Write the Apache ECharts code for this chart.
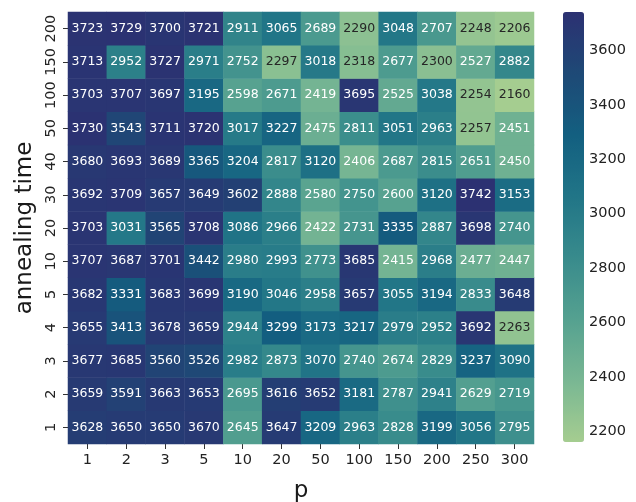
<!DOCTYPE html>
<html>
<head>
<meta charset="utf-8">
<script src="https://cdn.jsdelivr.net/npm/echarts@6/dist/echarts.min.js"></script>
<style>
html, body { margin: 0; padding: 0; background: #fff; }
#main { width: 636px; height: 502px; }
</style>
</head>
<body>
<div id="main"></div>
<script>
var chart = echarts.init(document.getElementById('main'));

// columns (p) and rows (annealing time), rows listed bottom -> top
var pLabels = ['1', '2', '3', '5', '10', '20', '50', '100', '150', '200', '250', '300'];
var timeLabels = ['1', '2', '3', '4', '5', '10', '20', '30', '40', '50', '100', '150', '200'];

// one array per annealing time
var row1   = [3628, 3650, 3650, 3670, 2645, 3647, 3209, 2963, 2828, 3199, 3056, 2795];
var row2   = [3659, 3591, 3663, 3653, 2695, 3616, 3652, 3181, 2787, 2941, 2629, 2719];
var row3   = [3677, 3685, 3560, 3526, 2982, 2873, 3070, 2740, 2674, 2829, 3237, 3090];
var row4   = [3655, 3413, 3678, 3659, 2944, 3299, 3173, 3217, 2979, 2952, 3692, 2263];
var row5   = [3682, 3331, 3683, 3699, 3190, 3046, 2958, 3657, 3055, 3194, 2833, 3648];
var row10  = [3707, 3687, 3701, 3442, 2980, 2993, 2773, 3685, 2415, 2968, 2477, 2447];
var row20  = [3703, 3031, 3565, 3708, 3086, 2966, 2422, 2731, 3335, 2887, 3698, 2740];
var row30  = [3692, 3709, 3657, 3649, 3602, 2888, 2580, 2750, 2600, 3120, 3742, 3153];
var row40  = [3680, 3693, 3689, 3365, 3204, 2817, 3120, 2406, 2687, 2815, 2651, 2450];
var row50  = [3730, 3543, 3711, 3720, 3017, 3227, 2475, 2811, 3051, 2963, 2257, 2451];
var row100 = [3703, 3707, 3697, 3195, 2598, 2671, 2419, 3695, 2525, 3038, 2254, 2160];
var row150 = [3713, 2952, 3727, 2971, 2752, 2297, 3018, 2318, 2677, 2300, 2527, 2882];
var row200 = [3723, 3729, 3700, 3721, 2911, 3065, 2689, 2290, 3048, 2707, 2248, 2206];

var rows = [row1, row2, row3, row4, row5, row10, row20, row30, row40, row50, row100, row150, row200];
var colorTicks = [2200, 2400, 2600, 2800, 3000, 3200, 3400, 3600];

// seaborn "crest"
var crest = ['#a5cd90', '#79b793', '#55a190', '#388b8c', '#217587', '#135f80', '#1e4976', '#2c3172'];

var vMin = 2160, vMax = 3742;
var font = 'DejaVu Sans';

var cells = [];
for (var r = 0; r < rows.length; r++) {
    for (var c = 0; c < pLabels.length; c++) {
        var v = rows[r][c];
        cells.push({
            value: [c, r, v],
            label: { color: v < 2360 ? '#262626' : '#ffffff' }
        });
    }
}

option = {
    animation: false,
    grid: [
        { left: 68, top: 12, width: 466, height: 432, outerBoundsMode: 'none' },
        { left: 563, top: 12, width: 21, height: 430, outerBoundsMode: 'none' }
    ],
    xAxis: [
        {
            type: 'category',
            gridIndex: 0,
            data: pLabels,
            name: 'p',
            nameLocation: 'middle',
            nameGap: 36,
            nameTextStyle: { fontFamily: font, fontSize: 23, color: '#1a1a1a' },
            axisLine: { show: false },
            axisTick: { show: true, alignWithLabel: true, interval: 0, length: 5, lineStyle: { color: '#333' } },
            axisLabel: { fontFamily: font, fontSize: 14.5, color: '#222', margin: 9, interval: 0 },
            splitLine: { show: false }
        },
        {
            type: 'value',
            gridIndex: 1,
            show: false
        }
    ],
    yAxis: [
        {
            type: 'category',
            gridIndex: 0,
            data: timeLabels,
            name: 'annealing time',
            nameLocation: 'middle',
            nameGap: 31,
            nameTextStyle: { fontFamily: font, fontSize: 23, color: '#1a1a1a' },
            axisLine: { show: false },
            axisTick: { show: true, alignWithLabel: true, interval: 0, length: 5, lineStyle: { color: '#333' } },
            axisLabel: { fontFamily: font, fontSize: 14.5, color: '#222', rotate: 90, margin: 9, interval: 0 },
            splitLine: { show: false }
        },
        {
            type: 'value',
            gridIndex: 1,
            position: 'right',
            min: vMin,
            max: vMax,
            axisLine: { show: false },
            axisTick: { show: true, length: 5, lineStyle: { color: '#333' }, customValues: colorTicks },
            axisLabel: {
                fontFamily: font, fontSize: 14.5, color: '#222', margin: 5,
                customValues: colorTicks,
                formatter: function (v) { return String(v); }
            },
            splitLine: { show: false }
        }
    ],
    visualMap: {
        type: 'continuous',
        min: vMin,
        max: vMax,
        calculable: false,
        show: true,
        left: 563,
        top: 12,
        padding: 0,
        itemWidth: 21,
        itemHeight: 430,
        text: null,
        showLabel: false,
        hoverLink: false,
        seriesIndex: 0,
        inRange: { color: crest }
    },
    series: [
        {
            type: 'heatmap',
            xAxisIndex: 0,
            yAxisIndex: 0,
            data: cells,
            label: {
                show: true,
                fontFamily: font,
                fontSize: 12.5
            },
            itemStyle: { borderWidth: 0 }
        }
    ]
};

chart.setOption(option);
</script>
</body>
</html>
